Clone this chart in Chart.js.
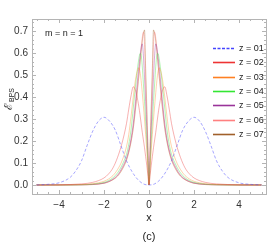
<!DOCTYPE html>
<html>
<head>
<meta charset="utf-8">
<script src="https://cdn.jsdelivr.net/npm/chart.js@4"></script>
<style>
  html, body { margin: 0; padding: 0; background: #fff; }
  #wrap { width: 273px; height: 245px; }
</style>
</head>
<body>
<div id="wrap"><canvas id="myChart" width="273" height="245"></canvas></div>
<script>
// x grid for z = 01 (blue dashed)
var xBlue = [-5, -4.5, -4, -3.5, -3.25, -3, -2.75, -2.5, -2.25, -2, -1.75, -1.5, -1.25, -1, -0.75, -0.5, -0.25, 0,
             0.25, 0.5, 0.75, 1, 1.25, 1.5, 1.75, 2, 2.25, 2.5, 2.75, 3, 3.25, 3.5, 4, 4.5, 5];
var z01 = [0, 0.003, 0.01, 0.035, 0.065, 0.11, 0.18, 0.245, 0.29, 0.308, 0.29, 0.25, 0.18, 0.11, 0.06, 0.025, 0.005, 0,
           0.005, 0.025, 0.06, 0.11, 0.18, 0.25, 0.29, 0.308, 0.29, 0.245, 0.18, 0.11, 0.065, 0.035, 0.01, 0.003, 0];

// x grid for z = 02 .. 07
var xGrid = [-5, -4, -3, -2.5, -2, -1.8, -1.6, -1.4, -1.2, -1, -0.9, -0.8, -0.7, -0.6, -0.5, -0.45, -0.4, -0.35, -0.3, -0.25, -0.2, -0.15, -0.1, -0.05, 0,
             0.05, 0.1, 0.15, 0.2, 0.25, 0.3, 0.35, 0.4, 0.45, 0.5, 0.6, 0.7, 0.8, 0.9, 1, 1.2, 1.4, 1.6, 1.8, 2, 2.5, 3, 4, 5];
var z02 = [0, 0.001, 0.005, 0.012, 0.032, 0.05, 0.078, 0.125, 0.19, 0.28, 0.345, 0.405, 0.447, 0.43, 0.385, 0.355, 0.32, 0.28, 0.24, 0.205, 0.17, 0.13, 0.09, 0.045, 0,
           0.045, 0.09, 0.13, 0.17, 0.205, 0.24, 0.28, 0.32, 0.355, 0.385, 0.43, 0.447, 0.405, 0.345, 0.28, 0.19, 0.125, 0.078, 0.05, 0.032, 0.012, 0.005, 0.001, 0];
var z03 = [0, 0, 0.002, 0.006, 0.017, 0.027, 0.043, 0.07, 0.11, 0.175, 0.23, 0.31, 0.40, 0.48, 0.525, 0.533, 0.515, 0.475, 0.42, 0.36, 0.30, 0.23, 0.16, 0.08, 0,
           0.08, 0.16, 0.23, 0.30, 0.36, 0.42, 0.475, 0.515, 0.533, 0.525, 0.48, 0.40, 0.31, 0.23, 0.175, 0.11, 0.07, 0.043, 0.027, 0.017, 0.006, 0.002, 0, 0];
var z04 = [0, 0, 0.001, 0.004, 0.012, 0.02, 0.033, 0.055, 0.09, 0.14, 0.185, 0.25, 0.35, 0.45, 0.54, 0.575, 0.598, 0.59, 0.54, 0.46, 0.38, 0.29, 0.20, 0.10, 0,
           0.10, 0.20, 0.29, 0.38, 0.46, 0.54, 0.59, 0.598, 0.575, 0.54, 0.45, 0.35, 0.25, 0.185, 0.14, 0.09, 0.055, 0.033, 0.02, 0.012, 0.004, 0.001, 0, 0];
var z05 = [0, 0, 0.001, 0.003, 0.009, 0.016, 0.027, 0.045, 0.078, 0.123, 0.16, 0.21, 0.28, 0.38, 0.49, 0.54, 0.585, 0.625, 0.642, 0.59, 0.49, 0.38, 0.26, 0.13, 0,
           0.13, 0.26, 0.38, 0.49, 0.59, 0.642, 0.625, 0.585, 0.54, 0.49, 0.38, 0.28, 0.21, 0.16, 0.123, 0.078, 0.045, 0.027, 0.016, 0.009, 0.003, 0.001, 0, 0];
var z06 = [0, 0, 0.001, 0.002, 0.008, 0.015, 0.025, 0.042, 0.072, 0.117, 0.152, 0.20, 0.265, 0.355, 0.46, 0.51, 0.565, 0.62, 0.67, 0.695, 0.64, 0.47, 0.32, 0.16, 0,
           0.16, 0.32, 0.47, 0.64, 0.695, 0.67, 0.62, 0.565, 0.51, 0.46, 0.355, 0.265, 0.20, 0.152, 0.117, 0.072, 0.042, 0.025, 0.015, 0.008, 0.002, 0.001, 0, 0];
var z07 = [0, 0, 0.001, 0.002, 0.008, 0.014, 0.024, 0.04, 0.069, 0.113, 0.148, 0.195, 0.257, 0.345, 0.445, 0.495, 0.55, 0.605, 0.655, 0.69, 0.705, 0.53, 0.36, 0.18, 0,
           0.18, 0.36, 0.53, 0.705, 0.69, 0.655, 0.605, 0.55, 0.495, 0.445, 0.345, 0.257, 0.195, 0.148, 0.113, 0.069, 0.04, 0.024, 0.014, 0.008, 0.002, 0.001, 0, 0];

var labels = ["z = 01", "z = 02", "z = 03", "z = 04", "z = 05", "z = 06", "z = 07"];
var xTicks = [-4, -2, 0, 2, 4];
var yTicks = [0, 0.1, 0.2, 0.3, 0.4, 0.5, 0.6, 0.7];

var lineColors = ['rgba(70,70,255,0.48)', 'rgba(235,50,50,0.38)', 'rgba(255,140,40,0.38)', 'rgba(60,225,60,0.38)',
                  'rgba(150,40,150,0.38)', 'rgba(255,120,120,0.38)', 'rgba(160,90,30,0.38)'];
var keyColors = ['#4444ff', '#ee3333', '#ff8022', '#33e633', '#993399', '#ff8080', '#a0602a'];

function pts(xs, ys) {
  return xs.map(function (x, i) { return { x: x, y: ys[i] }; });
}

var series = [[xBlue, z01], [xGrid, z02], [xGrid, z03], [xGrid, z04], [xGrid, z05], [xGrid, z06], [xGrid, z07]];
var datasets = series.map(function (s, i) {
  return {
    label: labels[i],
    data: pts(s[0], s[1]),
    borderColor: lineColors[i],
    borderWidth: 1,
    borderDash: i == 0 ? [3, 2] : [],
    pointRadius: 0,
    fill: false,
    cubicInterpolationMode: 'monotone'
  };
});

var FONT = "'Liberation Sans', Arial, sans-serif";

// frame, inward ticks, legend and texts
var decor = {
  id: 'decor',
  afterDraw: function (chart) {
    var c = chart.ctx, a = chart.chartArea;
    var xs = chart.scales.x, ys = chart.scales.y;
    c.save();
    c.strokeStyle = '#b4b4b4';
    c.lineWidth = 1;
    c.strokeRect(Math.round(a.left) + 0.5, Math.round(a.top) + 0.5, Math.round(a.right - a.left), Math.round(a.bottom - a.top));
    c.beginPath();
    for (var v = -5; v <= 5.001; v += 0.5) {
      var px = Math.round(xs.getPixelForValue(v)) + 0.5;
      var len = (Math.abs(v % 2) < 0.01) ? 4 : 2;
      c.moveTo(px, a.bottom); c.lineTo(px, a.bottom - len);
      c.moveTo(px, a.top); c.lineTo(px, a.top + len);
    }
    for (var k = 0; k <= 37; k++) {
      var yv = k * 0.02;
      var py = Math.round(ys.getPixelForValue(yv)) + 0.5;
      var l2 = (k % 5 == 0) ? 4 : 2;
      c.moveTo(a.left, py); c.lineTo(a.left + l2, py);
      c.moveTo(a.right, py); c.lineTo(a.right - l2, py);
    }
    c.stroke();

    // legend
    c.font = '9px ' + FONT;
    c.textBaseline = 'middle';
    c.textAlign = 'left';
    chart.data.datasets.forEach(function (ds, i) {
      var y = Math.round(48 + i * 14.35) + 0.5;
      c.beginPath();
      c.strokeStyle = keyColors[i];
      c.lineWidth = 1.6;
      c.setLineDash(i == 0 ? [3, 1.5] : []);
      c.moveTo(213, y); c.lineTo(235, y);
      c.stroke();
      c.setLineDash([]);
      c.fillStyle = '#222';
      c.fillText(ds.label, 239, y);
    });

    // annotation
    c.fillStyle = '#222';
    c.fillText('m = n = 1', 45, 34);

    // axis titles
    c.textAlign = 'center';
    c.font = '11px ' + FONT;
    var cx = (a.left + a.right) / 2;
    c.fillText('x', cx, 218);
    c.fillText('(c)', cx, 237);

    c.save();
    c.translate(12, 104);
    c.rotate(-Math.PI / 2);
    c.textAlign = 'left';
    c.textBaseline = 'alphabetic';
    c.font = '11px ' + FONT;
    c.fillText('\u2130', -6, 0);
    c.font = '7px ' + FONT;
    c.fillText('BPS', 2, 2);
    c.restore();
    c.restore();
  }
};

var ctx = document.getElementById('myChart').getContext('2d');
var chart = new Chart(ctx, {
  type: 'line',
  data: { datasets: datasets },
  plugins: [decor],
  options: {
    responsive: false,
    animation: false,
    layout: { padding: { left: 0, right: 7, top: 19, bottom: 0 } },
    plugins: { legend: { display: false }, tooltip: { enabled: false } },
    scales: {
      x: {
        type: 'linear',
        min: -5.2, max: 5.2,
        grid: { display: false, drawTicks: false },
        border: { display: false },
        afterBuildTicks: function (s) { s.ticks = xTicks.map(function (v) { return { value: v }; }); },
        afterFit: function (s) { s.height = 51; },
        ticks: {
          padding: 5,
          color: '#333',
          font: { family: FONT, size: 10 },
          maxRotation: 0,
          callback: function (v) { return String(v).replace('-', '\u2212'); }
        }
      },
      y: {
        min: -0.041, max: 0.755,
        grid: { display: false, drawTicks: false },
        border: { display: false },
        afterBuildTicks: function (s) { s.ticks = yTicks.map(function (v) { return { value: v }; }); },
        afterFit: function (s) { s.width = 32; },
        ticks: {
          padding: 4,
          color: '#333',
          font: { family: FONT, size: 10 },
          callback: function (v) { return v.toFixed(1); }
        }
      }
    }
  }
});
</script>
</body>
</html>
